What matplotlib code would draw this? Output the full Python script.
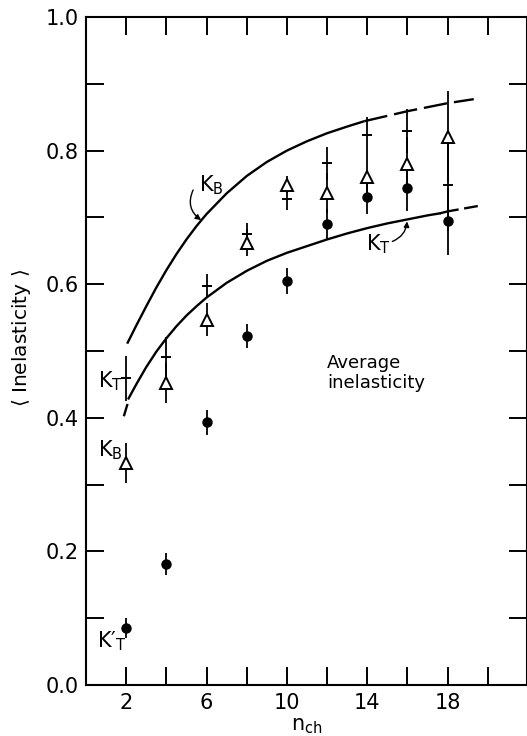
import numpy as np
import matplotlib
matplotlib.use("Agg")
import matplotlib.pyplot as plt
from matplotlib.ticker import FixedLocator

plt.rcParams['font.family'] = ['DejaVu Sans']
plt.rcParams['mathtext.fontset'] = 'dejavusans'
plt.rcParams['mathtext.default'] = 'regular'
plt.rcParams['lines.scale_dashes'] = False

# ---- data ----
n_ch = [2, 4, 6, 8, 10, 12, 14, 16, 18]
kt_vals = [0.459, 0.491, 0.598, 0.675, 0.727, 0.781, 0.823, 0.830, 0.749]
kt_errs = [0.034, 0.030, 0.018, 0.017, 0.016, 0.025, 0.027, 0.033, 0.070]
kb_vals = [0.332, 0.452, 0.547, 0.662, 0.749, 0.737, 0.761, 0.780, 0.821]
kb_errs = [0.030, 0.030, 0.025, 0.020, 0.013, 0.030, 0.035, 0.040, 0.068]
ktp_vals = [0.086, 0.181, 0.393, 0.522, 0.605, 0.690, 0.730, 0.744, 0.694]
ktp_errs = [0.015, 0.017, 0.018, 0.018, 0.020, 0.022, 0.025, 0.034, 0.050]

kb_curve_n = [2.05, 2.5, 3.0, 3.5, 4.0, 4.5, 5.0, 5.5, 6.0, 7.0, 8.0, 9.0, 10.0,
              11.0, 12.0, 13.0, 13.85, 15.0, 16.0, 17.0, 18.0, 19.3]
kb_curve_v = [0.511, 0.538, 0.567, 0.595, 0.621, 0.645, 0.667, 0.687, 0.705, 0.736, 0.762, 0.783, 0.800,
              0.814, 0.826, 0.836, 0.844, 0.852, 0.859, 0.865, 0.871, 0.877]
kt_curve_n = [1.9, 2.05, 2.12, 2.5, 3.0, 3.5, 4.0, 4.5, 5.0, 5.5, 6.0, 7.0, 8.0, 9.0, 10.0,
              11.0, 12.0, 13.0, 14.0, 15.0, 16.0, 17.0, 17.6, 18.0, 19.5]
kt_curve_v = [0.404, 0.419, 0.429, 0.450, 0.476, 0.499, 0.519, 0.537, 0.553, 0.567, 0.580, 0.602, 0.620, 0.635, 0.647,
              0.657, 0.667, 0.676, 0.684, 0.691, 0.697, 0.703, 0.706, 0.709, 0.717]

x_major = [2, 6, 10, 14, 18]
x_minor = [0, 4, 8, 12, 16, 20]
y_major = [0.0, 0.2, 0.4, 0.6, 0.8, 1.0]
y_minor = [0.1, 0.3, 0.5, 0.7, 0.9]

fig = plt.figure(figsize=(5.27, 7.36), dpi=100)
ax = fig.add_axes([86/527, 51/736, 441/527, 668/736])
ax.set_xlim(0, 21.95)
ax.set_ylim(0, 1.0)

lw_curve = 1.7
kbn = np.array(kb_curve_n); kbv = np.array(kb_curve_v)
m1 = kbn <= 13.85
ax.plot(kbn[m1], kbv[m1], color='k', lw=lw_curve, solid_capstyle='butt')
m2 = kbn >= 13.85
ax.plot(kbn[m2], kbv[m2], color='k', lw=lw_curve, dashes=(17, 5))

ktn = np.array(kt_curve_n); ktv = np.array(kt_curve_v)
s0 = ktn <= 2.05
ax.plot(ktn[s0], ktv[s0], color='k', lw=lw_curve)
s1 = (ktn >= 2.12) & (ktn <= 17.6)
ax.plot(ktn[s1], ktv[s1], color='k', lw=lw_curve)
s2 = ktn >= 17.6
ax.plot(ktn[s2], ktv[s2], color='k', lw=lw_curve, dashes=(14, 4))

# error bars
for vals, errs in ((kt_vals, kt_errs), (kb_vals, kb_errs), (ktp_vals, ktp_errs)):
    ax.errorbar(n_ch, vals, yerr=errs, fmt='none', ecolor='k', elinewidth=1.3, capsize=0, zorder=3)

ax.plot(n_ch, kt_vals, ls='none', marker='_', ms=7, mew=1.4, color='k', zorder=4)
ax.plot(n_ch, kb_vals, ls='none', marker='^', ms=8.5, mfc='white', mec='k', mew=1.4, zorder=5)
ax.plot(n_ch, ktp_vals, ls='none', marker='o', ms=6.5, color='k', zorder=5)

# labels on the plot
fs_k = 15
ax.text(1.85, 0.455, r'$K_T$', ha='right', va='center', fontsize=fs_k)
ax.text(1.85, 0.352, r'$K_B$', ha='right', va='center', fontsize=fs_k)
ax.text(2.0, 0.066, "$K′_T$", ha='right', va='center', fontsize=fs_k)

ax.text(6.23, 0.748, r'$K_B$', ha='center', va='center', fontsize=fs_k)
ax.annotate('', xy=(5.73, 0.696), xytext=(5.33, 0.741),
            arrowprops=dict(arrowstyle='-|>', connectionstyle='arc3,rad=0.4',
                            lw=1.0, color='k', mutation_scale=8, shrinkA=0, shrinkB=0))
ax.text(14.54, 0.660, r'$K_T$', ha='center', va='center', fontsize=fs_k)
ax.annotate('', xy=(15.98, 0.694), xytext=(15.25, 0.664),
            arrowprops=dict(arrowstyle='-|>', connectionstyle='arc3,rad=0.3',
                            lw=1.0, color='k', mutation_scale=8, shrinkA=0, shrinkB=0))

ax.text(12.0, 0.495, 'Average\ninelasticity', ha='left', va='top', fontsize=13, linespacing=1.15)

# axes styling
ax.xaxis.set_major_locator(FixedLocator(x_major))
ax.xaxis.set_minor_locator(FixedLocator(x_minor))
ax.yaxis.set_major_locator(FixedLocator(y_major))
ax.yaxis.set_minor_locator(FixedLocator(y_minor))
ax.set_xticklabels([str(v) for v in x_major])
ax.set_yticklabels(['%.1f' % v for v in y_major])
ax.tick_params(which='both', direction='in', length=13, width=1.4, top=True, right=True)
ax.tick_params(axis='both', which='major', labelsize=15)
ax.tick_params(axis='y', which='major', pad=5)
ax.tick_params(axis='x', which='major', pad=6)
for sp in ax.spines.values():
    sp.set_linewidth(1.5)

ax.set_xlabel(r'$n_{ch}$', fontsize=15, labelpad=2)
ax.set_ylabel(r'$\langle$ Inelasticity $\rangle$', fontsize=14.5)
ax.yaxis.set_label_coords(-0.12, 0.52)

fig.savefig('out.png', dpi=100)
